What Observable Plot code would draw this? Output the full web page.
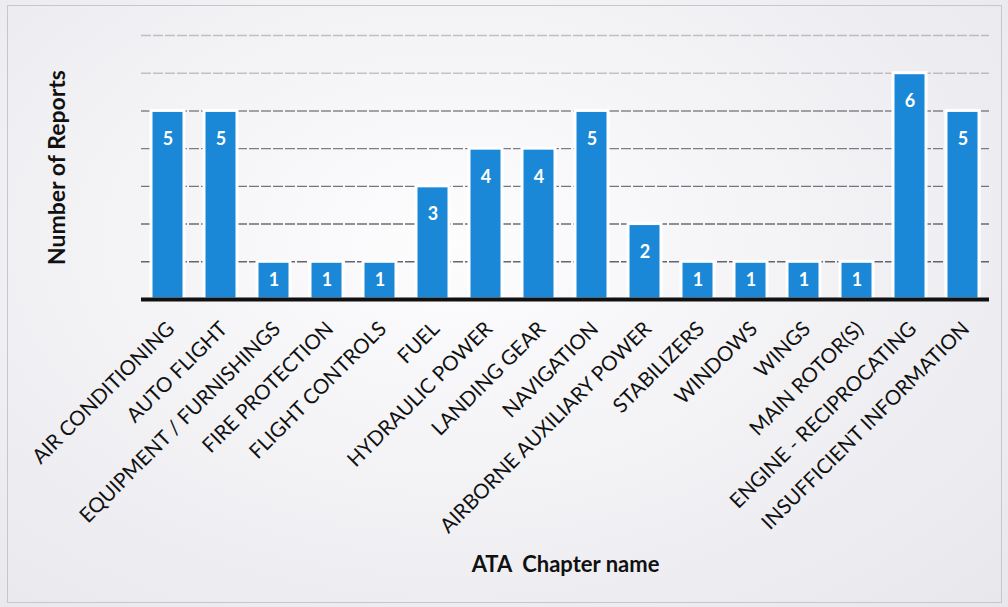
<!DOCTYPE html>
<html>
<head>
<meta charset="utf-8">
<script src="https://cdn.jsdelivr.net/npm/d3@7"></script>
<script src="https://cdn.jsdelivr.net/npm/@observablehq/plot@0.6"></script>
<style>
  html, body { margin: 0; padding: 0; }
  body { width: 1008px; height: 607px; overflow: hidden;
    background: radial-gradient(ellipse at 45% 40%, #fdfdfe 0%, #f3f3f6 45%, #e7e7ec 100%); position: relative; }
  #frame { position: absolute; left: 7px; top: 5px; width: 995px; height: 598px; border: 1px solid #c6c6cc; box-sizing: border-box; }
  #chart { position: absolute; left: 0; top: 0; }
  #chart svg text { white-space: pre; }
</style>
</head>
<body>
<div id="frame"></div>
<div id="chart"></div>
<script>
const chapters = [
  "AIR CONDITIONING", "AUTO FLIGHT", "EQUIPMENT / FURNISHINGS", "FIRE PROTECTION",
  "FLIGHT CONTROLS", "FUEL", "HYDRAULIC POWER", "LANDING GEAR", "NAVIGATION",
  "AIRBORNE AUXILIARY POWER", "STABILIZERS", "WINDOWS", "WINGS", "MAIN ROTOR(S)",
  "ENGINE - RECIPROCATING", "INSUFFICIENT INFORMATION"
];
const reports = [5, 5, 1, 1, 1, 3, 4, 4, 5, 2, 1, 1, 1, 1, 6, 5];
const gridValues = [1, 2, 3, 4, 5, 6, 7];
const yTitle = "Number of Reports";
const xTitle = "ATA  Chapter name";

const data = chapters.map((c, i) => ({chapter: c, count: reports[i]}));
const font = "Lato, 'Open Sans', sans-serif";
const blue = "#1a88d6";

const chart = Plot.plot({
  width: 1008,
  height: 607,
  marginTop: 35,
  marginBottom: 308,
  marginLeft: 141,
  marginRight: 19,
  style: {background: "transparent", fontFamily: font},
  x: {domain: chapters, paddingInner: 0.38, paddingOuter: 0.19, axis: null},
  y: {domain: [0, 7], axis: null},
  marks: [
    Plot.ruleY(gridValues, {stroke: "#4a4a55", strokeWidth: 1.4, strokeDasharray: "10,2",
      strokeOpacity: d => d >= 6 ? 0.3 : 0.9 - d * 0.05}),
    Plot.barY(data, {x: "chapter", y: "count", fill: blue, stroke: "white", strokeWidth: 3}),
    Plot.ruleY([0], {stroke: "#111", strokeWidth: 4}),
    Plot.text(data, {x: "chapter", y: d => Math.max(d.count - 0.75, d.count / 2),
      text: d => String(d.count), fill: "white", fontWeight: "bold", fontSize: 18, lineAnchor: "middle"}),
    Plot.text(data, {x: "chapter", frameAnchor: "bottom", text: "chapter", rotate: -45,
      textAnchor: "end", lineAnchor: "middle", dy: 26, dx: 3, fontSize: 20.5, fill: "#111"}),
    Plot.text([yTitle], {frameAnchor: "left", dx: -84, rotate: -90, text: d => d, textAnchor: "middle",
      fontSize: 23, fontWeight: "bold", fill: "#111", lineAnchor: "middle"}),
    Plot.text([xTitle], {frameAnchor: "bottom", dx: 0, dy: 265, text: d => d, textAnchor: "middle",
      fontSize: 22, fontWeight: "bold", fill: "#111", lineAnchor: "middle"})
  ]
});
document.getElementById("chart").appendChild(chart);
</script>
</body>
</html>
